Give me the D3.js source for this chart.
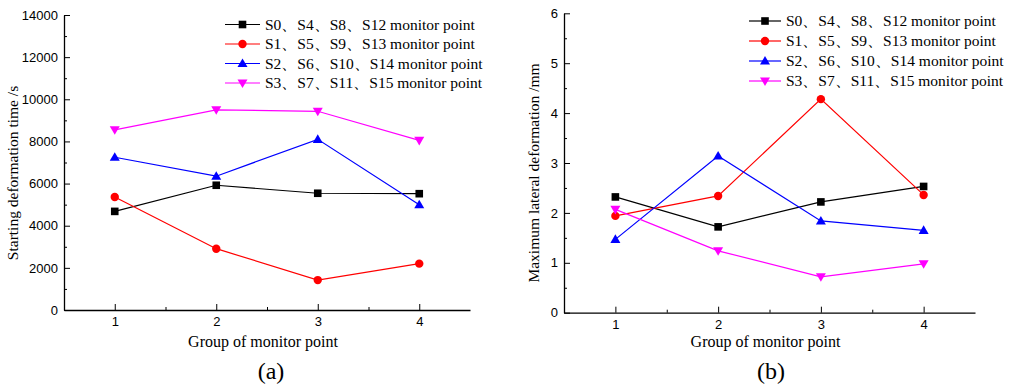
<!DOCTYPE html>
<html lang="en">
<head>
<meta charset="utf-8">
<title>Monitor point charts</title>
<script src="https://d3js.org/d3.v7.min.js"></script>
<style>
  body { margin: 0; background: #fff; }
  svg { display: block; }
  .tick text { font-family: "Liberation Sans", Arial, sans-serif; font-size: 13px; fill: #000; }
  .domain { stroke: #000; stroke-width: 1.3; }
  .tick line { stroke: #000; stroke-width: 1; }
  .serif { font-family: "Liberation Serif", "DejaVu Serif", serif; }
</style>
</head>
<body>
<script>
// groups on the x axis
const groups = [1, 2, 3, 4];

const seriesNames = [
  "S0\u3001S4\u3001S8\u3001S12 monitor point",
  "S1\u3001S5\u3001S9\u3001S13 monitor point",
  "S2\u3001S6\u3001S10\u3001S14 monitor point",
  "S3\u3001S7\u3001S11\u3001S15 monitor point"
];

// panel (a): starting deformation time /s
const startTime = [
  [4680, 5920, 5540, 5520],
  [5360, 2910, 1420, 2200],
  [7250, 6350, 8100, 5000],
  [8550, 9500, 9430, 8050]
];

// panel (b): maximum lateral deformation /mm
const maxLateral = [
  [2.32, 1.72, 2.22, 2.53],
  [1.94, 2.34, 4.28, 2.36],
  [1.47, 3.14, 1.84, 1.65],
  [2.07, 1.24, 0.72, 0.98]
];

const yTicksA = [0, 2000, 4000, 6000, 8000, 10000, 12000, 14000];
const yTicksB = [0, 1, 2, 3, 4, 5, 6];

const colors = ["#000000", "#ff0000", "#0000ff", "#ff00ff"];
const symbols = ["square", "circle", "triangle", "triangleDown"];

const svg = d3.select("body").append("svg")
  .attr("width", 1024).attr("height", 386);

function marker(g, type, x, y, color) {
  if (type === "square") {
    g.append("rect").attr("x", x - 3.8).attr("y", y - 3.8)
      .attr("width", 7.6).attr("height", 7.6).attr("fill", color);
  } else if (type === "circle") {
    g.append("circle").attr("cx", x).attr("cy", y).attr("r", 4.2).attr("fill", color);
  } else if (type === "triangle") {
    g.append("path").attr("d", `M${x},${y - 5}L${x + 5},${y + 3.6}L${x - 5},${y + 3.6}Z`).attr("fill", color);
  } else {
    g.append("path").attr("d", `M${x},${y + 5}L${x + 5},${y - 3.6}L${x - 5},${y - 3.6}Z`).attr("fill", color);
  }
}

function serifText(g, size) {
  return g.append("text").attr("class", "serif").attr("font-size", size).attr("fill", "#000");
}

function drawPanel(opt) {
  const g = svg.append("g");
  const x = d3.scaleLinear().domain([0.5, 4.5]).range([opt.left, opt.right]);
  const y = d3.scaleLinear().domain([0, opt.yMax]).range([opt.bottom, opt.top]);

  // minor ticks (pointing inward)
  const minorY = d3.range(0, opt.yMax + 1e-9, opt.yStep / 2).filter(v => !opt.yTicks.includes(v));
  g.append("g").attr("transform", `translate(${opt.left},0)`)
    .call(d3.axisLeft(y).tickValues(minorY).tickSize(-3).tickFormat(""))
    .select(".domain").remove();
  g.append("g").attr("transform", `translate(0,${opt.bottom})`)
    .call(d3.axisBottom(x).tickValues([1.5, 2.5, 3.5]).tickSize(-3).tickFormat(""))
    .select(".domain").remove();

  // major axes, ticks inward
  g.append("g").attr("transform", `translate(${opt.left},0)`)
    .call(d3.axisLeft(y).tickValues(opt.yTicks).tickSize(-6).tickSizeOuter(0).tickPadding(6).tickFormat(d3.format("d")));
  g.append("g").attr("transform", `translate(0,${opt.bottom})`)
    .call(d3.axisBottom(x).tickValues(groups).tickSize(-6).tickSizeOuter(0).tickPadding(7).tickFormat(d3.format("d")));

  const line = d3.line().x((d, i) => x(groups[i])).y(d => y(d));
  opt.data.forEach((vals, s) => {
    g.append("path").datum(vals).attr("d", line)
      .attr("fill", "none").attr("stroke", colors[s]).attr("stroke-width", 1.2);
    vals.forEach((v, i) => marker(g, symbols[s], x(groups[i]), y(v), colors[s]));
  });

  // legend
  seriesNames.forEach((name, s) => {
    const ly = opt.legY + s * opt.legStep;
    g.append("line").attr("x1", opt.legX).attr("x2", opt.legX + opt.legLen)
      .attr("y1", ly).attr("y2", ly).attr("stroke", colors[s]).attr("stroke-width", 1.2);
    marker(g, symbols[s], opt.legX + opt.legLen / 2, ly, colors[s]);
    serifText(g, 15.5).attr("x", opt.legX + opt.legLen + 5).attr("y", ly + 5).text(name);
  });

  // titles
  serifText(g, 16).attr("text-anchor", "middle")
    .attr("x", (opt.left + opt.right) / 2 - 4).attr("y", 347)
    .text("Group of monitor point");
  serifText(g, 15.5).attr("text-anchor", "middle")
    .attr("transform", `translate(${opt.yTitleX},${opt.yTitleY}) rotate(-90)`)
    .text(opt.yTitle);
  serifText(g, 24).attr("text-anchor", "middle").attr("x", opt.capX).attr("y", 379)
    .text(opt.caption);
}

drawPanel({
  left: 64, right: 470, top: 15, bottom: 310,
  yMax: 14000, yStep: 2000, yTicks: yTicksA, data: startTime,
  legX: 225, legLen: 35, legY: 24.5, legStep: 19.5,
  yTitle: "Starting deformation time /s", yTitleX: 18, yTitleY: 173,
  caption: "(a)", capX: 271
});

drawPanel({
  left: 564, right: 975, top: 13.3, bottom: 312.7,
  yMax: 6, yStep: 1, yTicks: yTicksB, data: maxLateral,
  legX: 749, legLen: 32, legY: 21, legStep: 20,
  yTitle: "Maximum lateral deformation /mm", yTitleX: 539, yTitleY: 173,
  caption: "(b)", capX: 771
});
</script>
</body>
</html>
